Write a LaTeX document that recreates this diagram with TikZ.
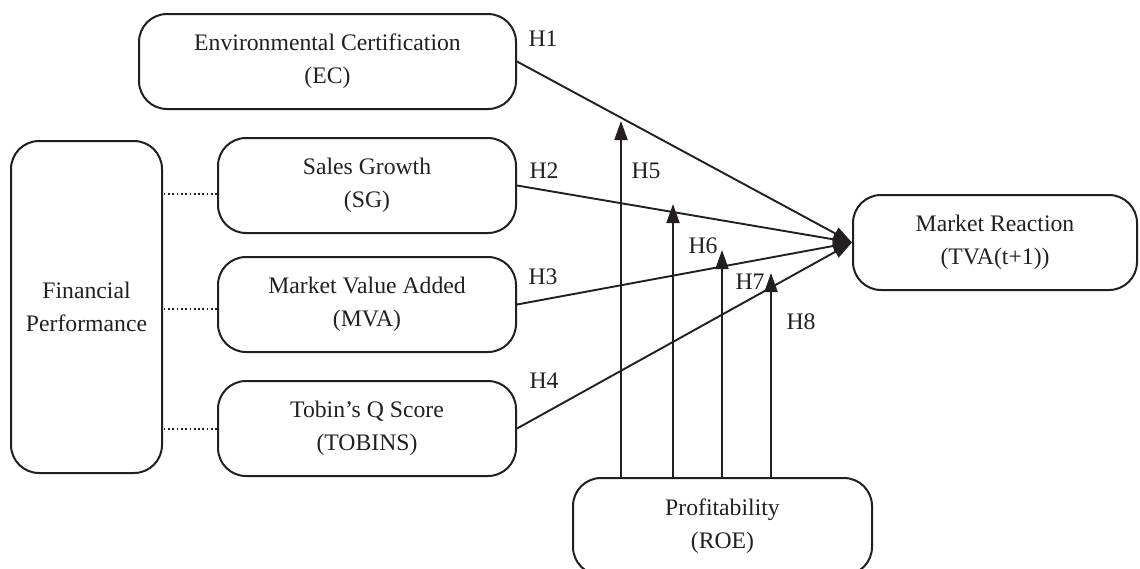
\documentclass[tikz,border=0pt]{standalone}
\usepackage{fontspec}
\setmainfont{Liberation Serif}
\usetikzlibrary{arrows.meta}
\definecolor{ink}{RGB}{35,31,32}
\begin{document}
\begin{tikzpicture}[x=1pt,y=-1pt,
  box/.style={draw=ink, text=ink, line width=2pt, rounded corners=28pt,
    align=center, inner sep=0pt, font=\fontsize{23.7}{33}\selectfont},
  lbl/.style={text=ink, inner sep=0pt, font=\fontsize{23.7}{28}\selectfont},
  arr/.style={draw=ink, line width=1.9pt, -{Triangle[length=19pt,width=13pt]}},
  dotline/.style={draw=ink, line width=1.8pt, dash pattern=on 1.7pt off 2.6pt}]
\useasboundingbox (0,0) rectangle (1140,568);

% constructs
\node[box, minimum width=377pt, minimum height=95pt] (ec)  at (327.5,61.5)  {Environmental Certification\\(EC)};
\node[box, minimum width=151pt, minimum height=332pt] (fp)  at (86.5,307)   {Financial\\Performance};
\node[box, minimum width=298pt, minimum height=95pt] (sg)  at (367,185.5)  {Sales Growth\\(SG)};
\node[box, minimum width=298pt, minimum height=95pt] (mva) at (367,304.5)  {Market Value Added\\(MVA)};
\node[box, minimum width=298pt, minimum height=95pt] (tq)  at (367,428.5)  {Tobin’s Q Score\\(TOBINS)};
\node[box, minimum width=284pt, minimum height=95pt] (mr)  at (995,242.5)  {Market Reaction\\(TVA(t+1))};
\node[box, minimum width=299pt, minimum height=97pt] (roe) at (722.5,526.5) {Profitability\\(ROE)};

% dimensions of financial performance
\draw[dotline] ([yshift=-8.5pt]sg.west) coordinate (d1) -- (fp.east |- d1);
\draw[dotline] ([yshift=-4.5pt]mva.west) coordinate (d2) -- (fp.east |- d2);
\draw[dotline] ([yshift=-0.5pt]tq.west) coordinate (d3) -- (fp.east |- d3);

% direct effects
\draw[arr] (ec.east)  -- (mr.west);
\draw[arr] (sg.east)  -- (mr.west);
\draw[arr] (mva.east) -- (mr.west);
\draw[arr] (tq.east)  -- (mr.west);

% moderating effects of profitability
\coordinate (t5) at (621,121);
\coordinate (t6) at (673,204);
\coordinate (t7) at (722,250);
\coordinate (t8) at (771,273);
\draw[arr] (roe.north -| t5) -- (t5);
\draw[arr] (roe.north -| t6) -- (t6);
\draw[arr] (roe.north -| t7) -- (t7);
\draw[arr] (roe.north -| t8) -- (t8);

% hypothesis labels
\node[lbl] (h1) at (543,39)  {H1};
\node[lbl] (h2) at (544,171) {H2};
\node[lbl] (h3) at (543,277) {H3};
\node[lbl] (h4) at (544,381) {H4};
\node[lbl] (h5) at (646,171) {H5};
\node[lbl] (h6) at (703,246) {H6};
\node[lbl] (h7) at (750,282) {H7};
\node[lbl] (h8) at (801,322) {H8};
\end{tikzpicture}
\end{document}
